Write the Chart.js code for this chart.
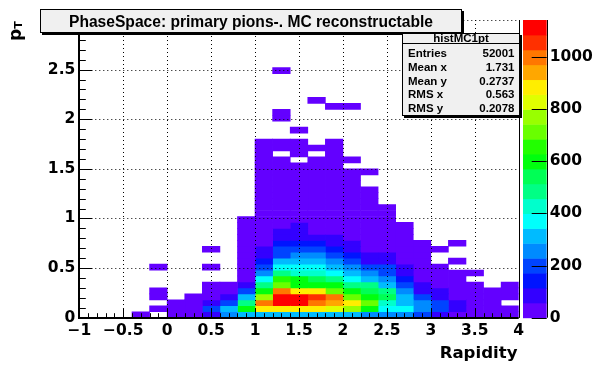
<!DOCTYPE html>
<html>
<head>
<meta charset="utf-8">
<title>PhaseSpace: primary pions-. MC reconstructable</title>
<script src="https://cdn.jsdelivr.net/npm/chart.js@4.4.1/dist/chart.umd.min.js"></script>
<style>
  body { margin: 0; background: #fff; }
  canvas { display: block; }
</style>
</head>
<body>
<canvas id="chart" width="609" height="365"></canvas>
<script>
// histMC1pt: rapidity (x) vs pT (y), 25 x 50 bins
const xLow = -1, xBinWidth = 0.2;
const yLow = 0, yBinWidth = 0.06;

// bin contents for each rapidity bin, lowest pT bin first
const counts = [
  [],                                                     // -1.0 .. -0.8
  [],                                                     // -0.8 .. -0.6
  [],                                                     // -0.6 .. -0.4
  [3],                                                    // -0.4 .. -0.2
  [0, 2, 0, 1, 2, 0, 0, 0, 1],                            // -0.2 .. 0.0
  [14, 9, 4],                                             // 0.0 .. 0.2
  [38, 21, 8, 3],                                         // 0.2 .. 0.4
  [82, 205, 96, 30, 12, 5, 0, 0, 1, 0, 0, 1],             // 0.4 .. 0.6
  [240, 310, 190, 88, 35, 14],                            // 0.6 .. 0.8
  [305, 598, 480, 300, 185, 80, 48, 36, 30, 24, 20, 15, 12, 9, 7, 5, 3],
  [318, 880, 1000, 770, 600, 488, 370, 255, 200, 140, 98, 70, 50, 44, 38, 33, 28, 25,
   21, 18, 15, 13, 11, 9, 7, 6, 4, 3, 2, 1],
  [325, 890, 1141, 1120, 1010, 715, 650, 470, 375, 310, 210, 180, 150, 100, 70, 52, 45, 40,
   34, 30, 26, 22, 19, 16, 13, 11, 8, 0, 5, 3, 0, 0, 0, 1, 1, 0, 0, 0, 0, 0, 0, 1],
  [320, 870, 1105, 1090, 860, 595, 580, 430, 380, 300, 250, 195, 135, 95, 75, 62, 46, 41,
   35, 31, 27, 23, 20, 17, 14, 12, 0, 6, 4, 2, 0, 1],
  [315, 865, 995, 1050, 875, 610, 540, 420, 365, 295, 240, 190, 130, 90, 55, 48, 42, 37,
   32, 28, 24, 20, 17, 14, 11, 9, 7, 0, 4, 0, 0, 0, 0, 0, 0, 0, 1],
  [300, 820, 940, 985, 705, 590, 475, 360, 290, 235, 180, 125, 92, 66, 50, 44, 38, 33,
   29, 25, 21, 18, 15, 12, 10, 8, 6, 4, 3, 2, 0, 0, 0, 0, 0, 1],
  [290, 760, 870, 720, 585, 470, 355, 300, 245, 185, 130, 88, 62, 50, 43, 37, 31, 26,
   22, 18, 15, 12, 9, 6, 4, 0, 1, 0, 0, 0, 0, 0, 0, 0, 0, 1],
  [285, 600, 700, 590, 530, 465, 300, 240, 175, 100, 72, 52, 45, 38, 32, 27, 22, 18,
   14, 11, 8, 5, 0, 0, 2],
  [250, 380, 420, 520, 470, 310, 250, 190, 175, 90, 65, 48, 40, 32, 25, 18, 12, 7, 3],
  [235, 360, 330, 295, 240, 180, 130, 85, 62, 46, 37, 29, 21, 14, 8, 3],
  [200, 255, 230, 175, 100, 70, 50, 40, 31, 23, 15, 8, 3],
  [95, 172, 175, 80, 65, 48, 34, 20, 8, 0, 0, 1],
  [52, 88, 75, 45, 36, 25, 14, 5, 0, 1, 0, 0, 1],
  [40, 45, 30, 22, 12, 6, 0, 1],
  [30, 24, 16, 8, 3],
  [22, 14, 0, 7, 4, 2]                                    // 3.8 .. 4.0
];

const xTicks = [-1, -0.5, 0, 0.5, 1, 1.5, 2, 2.5, 3, 3.5, 4];
const yTicks = [0, 0.5, 1, 1.5, 2, 2.5];
const zTicks = [0, 200, 400, 600, 800, 1000];

const titleText = 'PhaseSpace: primary pions-. MC reconstructable';
const histName = 'histMC1pt';
const statsLabels = ['Entries', 'Mean x', 'Mean y', 'RMS x', 'RMS y'];
const statsValues = ['52001', '1.731', '0.2737', '0.563', '0.2078'];

// ROOT "pretty palette" (violet -> red), 20 contour levels
const nLevels = 20;
const palette = [];
for (let j = 0; j < nLevels; j++) {
  const idx = Math.floor((j + 0.99) * 50 / nLevels);
  palette.push(idx === 49 ? '#ff0000' : `hsl(${280 - (idx + 1) * 5.6}, 100%, 50%)`);
}

const zMax = Math.max(...counts.flat());

function cellColor(v) {
  const level = Math.min(nLevels - 1, Math.floor(v / (zMax / nLevels)));
  return palette[level];
}

function fmt(v) {
  return v < 0 ? '\u2212' + Math.abs(v) : String(v);
}

// one floating-bar dataset per rapidity bin, one bar per filled pT bin
const datasets = counts.map((col, i) => {
  const cx = xLow + (i + 0.5) * xBinWidth;
  const pts = [];
  col.forEach((v, k) => {
    if (v > 0) pts.push({ x: cx, y: [yLow + k * yBinWidth, yLow + (k + 1) * yBinWidth], v });
  });
  return {
    data: pts,
    backgroundColor: pts.map(p => cellColor(p.v)),
    borderWidth: 0,
    grouped: false,
    barPercentage: 1,
    categoryPercentage: 1
  };
});

const labelFont = { family: 'DejaVu Sans', size: 15.5, weight: 'bold' };

// fixed axis sizes; label overhang must not push the frame around
function fixSize(w, h) {
  return s => {
    if (w !== null) s.width = w;
    if (h !== null) s.height = h;
    s.paddingTop = s.paddingBottom = s.paddingLeft = s.paddingRight = 0;
  };
}

const rootPad = {
  id: 'rootPad',
  afterDraw(chart) {
    const { ctx, chartArea: a, scales: { x, y, z } } = chart;
    const px = v => Math.round(x.getPixelForValue(v)) + 0.5;
    const py = v => Math.round(y.getPixelForValue(v)) + 0.5;
    ctx.save();

    // dotted grid over the cells
    ctx.strokeStyle = '#000';
    ctx.lineWidth = 1;
    ctx.setLineDash([1, 3]);
    ctx.beginPath();
    xTicks.filter(v => v > x.min && v < x.max).forEach(v => {
      ctx.moveTo(px(v), a.top); ctx.lineTo(px(v), a.bottom);
    });
    yTicks.filter(v => v > y.min).concat([y.max]).forEach(v => {
      ctx.moveTo(a.left, py(v)); ctx.lineTo(a.right, py(v));
    });
    ctx.stroke();
    ctx.setLineDash([]);

    // frame
    ctx.beginPath();
    ctx.moveTo(Math.round(a.right) + 0.5, a.top);
    ctx.lineTo(Math.round(a.right) + 0.5, a.bottom);
    ctx.stroke();
    ctx.lineWidth = 2;
    ctx.beginPath();
    ctx.moveTo(Math.round(a.left), a.top);
    ctx.lineTo(Math.round(a.left), Math.round(a.bottom));
    ctx.lineTo(a.right, Math.round(a.bottom));
    ctx.stroke();

    // tick marks, pointing into the frame
    ctx.lineWidth = 1;
    ctx.beginPath();
    for (let t = -10; t <= 40; t++) {
      const len = t % 5 === 0 ? 9 : 4.5;
      ctx.moveTo(px(t / 10), a.bottom);
      ctx.lineTo(px(t / 10), a.bottom - len);
    }
    for (let t = 0; t <= 30; t++) {
      const len = t % 5 === 0 ? 13 : 6.5;
      ctx.moveTo(a.left, py(t / 10));
      ctx.lineTo(a.left + len, py(t / 10));
    }
    ctx.stroke();

    // colour bar on the z scale
    const barL = z.left + 4.3, barR = z.left + 28;
    for (let j = 0; j < nLevels; j++) {
      const top = z.getPixelForValue((j + 1) * zMax / nLevels);
      const bot = z.getPixelForValue(j * zMax / nLevels);
      ctx.fillStyle = palette[j];
      ctx.fillRect(barL, top, barR - barL, bot - top + 0.5);
    }
    ctx.beginPath();
    ctx.moveTo(Math.round(barR) + 0.5, a.top);
    ctx.lineTo(Math.round(barR) + 0.5, a.bottom);
    zTicks.forEach(v => {
      const yy = Math.round(z.getPixelForValue(v)) + 0.5;
      ctx.moveTo(barR - 15, yy); ctx.lineTo(barR, yy);
    });
    ctx.stroke();

    // title box
    ctx.fillStyle = '#000';
    ctx.fillRect(42, 11, 422, 24);
    ctx.fillStyle = '#f0f0f0';
    ctx.fillRect(40, 9, 422, 24);
    ctx.strokeRect(40.5, 9.5, 421, 23);
    ctx.fillStyle = '#000';
    ctx.font = 'bold 15.6px "Liberation Sans"';
    ctx.textAlign = 'center';
    ctx.textBaseline = 'alphabetic';
    ctx.fillText(titleText, 251, 26.5);

    // statistics box
    const sL = 402, sT = 33, sR = 520, sB = 116;
    ctx.fillRect(sL + 2, sT + 2, sR - sL, sB - sT);
    ctx.fillStyle = '#f0f0f0';
    ctx.fillRect(sL, sT, sR - sL, sB - sT);
    ctx.strokeRect(sL + 0.5, sT + 0.5, sR - sL - 1, sB - sT - 1);
    ctx.beginPath();
    ctx.moveTo(sL, 43.5); ctx.lineTo(sR, 43.5);
    ctx.stroke();
    ctx.fillStyle = '#000';
    ctx.font = 'bold 11.5px "Liberation Sans"';
    ctx.fillText(histName, (sL + sR) / 2, 42);
    statsLabels.forEach((lab, r) => {
      const base = 57.3 + r * 13.6;
      ctx.textAlign = 'left';
      ctx.fillText(lab, 408, base);
      ctx.textAlign = 'right';
      ctx.fillText(statsValues[r], 514.5, base);
    });

    // axis titles
    ctx.font = 'bold 16.6px "DejaVu Sans"';
    ctx.textAlign = 'right';
    ctx.fillText('Rapidity', 517.5, 358);

    ctx.translate(21, 41);
    ctx.rotate(-Math.PI / 2);
    ctx.textAlign = 'left';
    ctx.font = 'bold 17px "DejaVu Sans"';
    ctx.fillText('p', 0, 0);
    const pw = ctx.measureText('p').width;
    ctx.font = 'bold 11px "DejaVu Sans"';
    ctx.fillText('T', pw, 1);
    ctx.restore();
  }
};

new Chart(document.getElementById('chart'), {
  type: 'bar',
  data: { datasets },
  options: {
    responsive: false,
    animation: false,
    devicePixelRatio: 1,
    layout: { padding: { top: 20 } },
    plugins: { legend: { display: false }, tooltip: { enabled: false } },
    scales: {
      x: {
        type: 'linear', min: -1, max: 4, offset: false,
        grid: { display: false, drawTicks: false }, border: { display: false },
        ticks: { font: labelFont, color: '#000', padding: 4, maxRotation: 0, callback: v => fmt(v) },
        afterBuildTicks: s => { s.ticks = xTicks.map(v => ({ value: v })); },
        afterFit: fixSize(null, 47.3)
      },
      y: {
        type: 'linear', min: 0, max: 3,
        grid: { display: false, drawTicks: false }, border: { display: false },
        ticks: { font: labelFont, color: '#000', padding: 4, callback: v => fmt(v) },
        afterBuildTicks: s => { s.ticks = yTicks.map(v => ({ value: v })); },
        afterFit: fixSize(79.3, null)
      },
      z: {
        type: 'linear', position: 'right', min: 0, max: zMax,
        grid: { display: false, drawTicks: false }, border: { display: false },
        ticks: { font: labelFont, color: '#000', padding: 31, callback: v => String(v) },
        afterBuildTicks: s => { s.ticks = zTicks.map(v => ({ value: v })); },
        afterFit: fixSize(90.3, null)
      }
    }
  },
  plugins: [rootPad]
});
</script>
</body>
</html>
